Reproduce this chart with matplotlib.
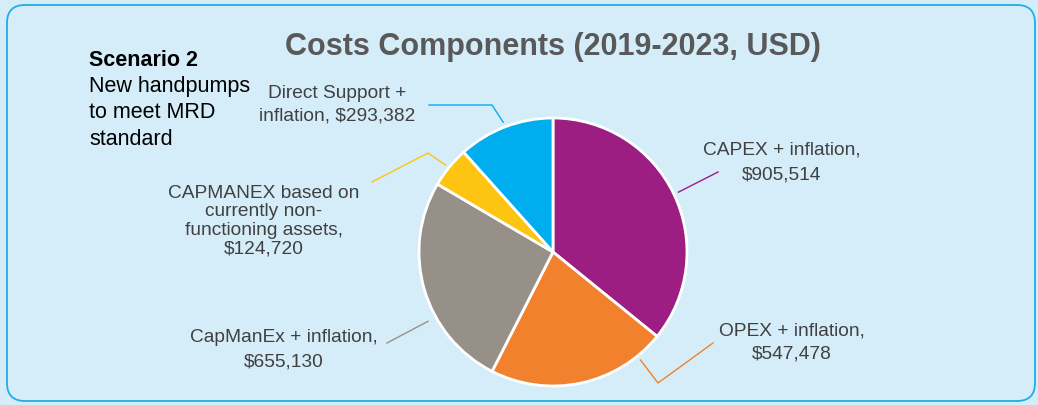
import numpy as np
import matplotlib.pyplot as plt
from matplotlib.patches import FancyBboxPatch

plt.rcParams['font.family'] = ['Liberation Sans', 'DejaVu Sans']

# Cost components, USD (2019-2023)
labels = ["CAPEX + inflation,\n$905,514",
          "OPEX + inflation,\n$547,478",
          "CapManEx + inflation,\n$655,130",
          "CAPMANEX based on\ncurrently non-\nfunctioning assets,\n$124,720",
          "Direct Support +\ninflation, $293,382"]
values = [905514, 547478, 655130, 124720, 293382]
colors = ["#9c1e83", "#f2812e", "#979089", "#fdc511", "#00aeef"]

W, H = 1038, 406
bg = "#d5edf9"
txt = "#404040"

def py(y):
    # pixel row (from top) -> data y
    return H - y

fig = plt.figure(figsize=(W / 100, H / 100), dpi=100, facecolor=bg)
ax = fig.add_axes([0, 0, 1, 1])
ax.set_facecolor(bg)

# rounded frame
frame = FancyBboxPatch((7, py(402)), 1028, 396, boxstyle="round,pad=0,rounding_size=18",
                       fc=bg, ec="#1eaee8", lw=1.3, zorder=0)
ax.add_patch(frame)

cx, cy, R = 553, 253, 134
ax.pie(values, colors=colors, startangle=90, counterclock=False,
       center=(cx, py(cy)), radius=R, frame=True,
       wedgeprops=dict(edgecolor="white", linewidth=2))

ax.set_xlim(0, W)
ax.set_ylim(0, H)
ax.axis('off')

ax.text(553, py(47), "Costs Components (2019-2023, USD)", ha='center', va='center',
        fontsize=22, fontweight='bold', color="#595959")

ax.text(89, py(60), "Scenario 2", ha='left', va='center', fontsize=15.5,
        fontweight='bold', color='black')
ax.text(89, py(113), "New handpumps\nto meet MRD\nstandard", ha='left', va='center',
        fontsize=15.5, color='black', linespacing=1.32)

# label positions (pixels) and leader lines: text end, elbow, angle on pie
lab_pos = [(782, 162.5, 1.55), (792, 342.5, 1.45), (284, 349.5, 1.55),
           (264, 221, 1.12), (337, 104.5, 1.45)]
leaders = [([(718, 173)], 64.5, 139),
           ([(713, 344), (658, 384)], 141, 139),
           ([(387, 344)], 241, 143),
           ([(372, 183), (428, 154)], 309, 138),
           ([(429, 106), (492, 106)], 339, 139)]

for lab, (x, y, ls), (pts, ang, r), c in zip(labels, lab_pos, leaders, colors):
    ax.text(x, py(y), lab, ha='center', va='center', fontsize=13.8,
            color=txt, linespacing=ls)
    a = np.deg2rad(ang)
    end = (cx + r * np.sin(a), cy - r * np.cos(a))
    xs = [p[0] for p in pts] + [end[0]]
    ys = [py(p[1]) for p in pts] + [py(end[1])]
    ax.plot(xs, ys, color=c, lw=1)

fig.savefig("out.png", dpi=100, facecolor=bg)
